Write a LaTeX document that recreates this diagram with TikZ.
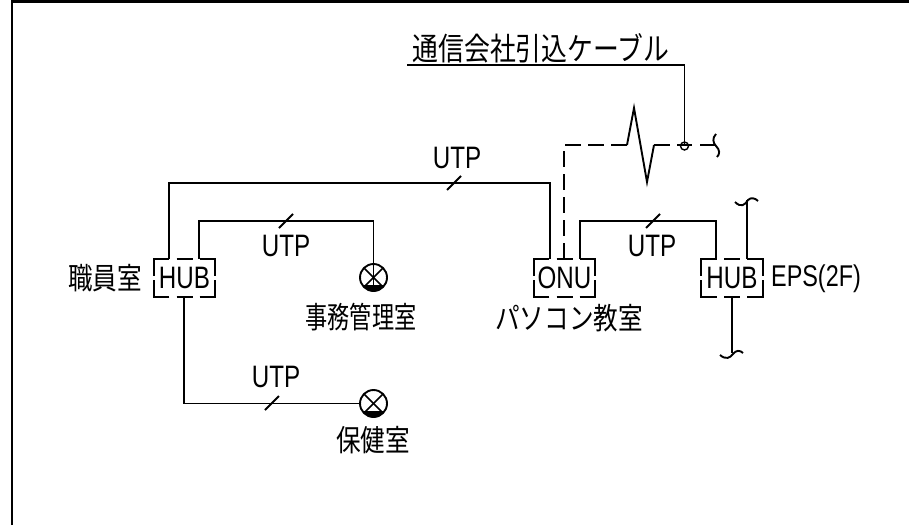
\documentclass[tikz,border=0pt]{standalone}
\usepackage{fontspec}
\setmainfont[FakeStretch=0.78]{Liberation Sans}
\newfontfamily\jpfont[FakeStretch=0.82]{Noto Sans CJK JP}
\tikzset{
  wire/.style={line width=1.9pt},
  cutline/.style={wire,dash pattern=on 16pt off 7pt},
  hubbox/.style={minimum width=61pt,minimum height=38pt,inner sep=0pt,font=\fontsize{31}{31}\selectfont},
  utp/.style={font=\fontsize{31}{31}\selectfont,inner sep=0pt},
  room/.style={font=\jpfont\fontsize{30}{30}\selectfont,inner sep=0pt},
}
\newcommand{\lampsym}[1]{%
  \draw[wire] (#1) circle (13.5pt);
  \draw[line width=1.5pt] ([shift={(45:13pt)}]#1) -- ([shift={(225:13pt)}]#1);
  \draw[line width=1.5pt] ([shift={(135:13pt)}]#1) -- ([shift={(-45:13pt)}]#1);
  \fill ([shift={(-146:13.5pt)}]#1) arc (-146:-34:13.5pt) -- cycle;
}
\begin{document}
\begin{tikzpicture}[x=1pt,y=-1pt]
\useasboundingbox (0,0) rectangle (909,525);
% frame
\draw[line width=2.4pt] (12,525) -- (12,1.5) -- (909,1.5);

\node[hubbox] (hubA) at (184.5,278) {HUB};
\node[hubbox] (onu) at (564.5,278) {ONU};
\node[hubbox] (hubB) at (732,278) {HUB};
\foreach \n in {hubA,onu,hubB} {
  \draw[wire] ([xshift=15.5pt]\n.north west) -- (\n.north west) -- ([yshift=-17pt]\n.north west);
  \draw[wire] ([xshift=-15.5pt]\n.north east) -- (\n.north east) -- ([yshift=-17pt]\n.north east);
  \draw[wire] ([xshift=15.5pt]\n.south west) -- (\n.south west) -- ([yshift=17pt]\n.south west);
  \draw[wire] ([xshift=-15.5pt]\n.south east) -- (\n.south east) -- ([yshift=17pt]\n.south east);
  \draw[wire] ([xshift=-8pt]\n.north) -- ([xshift=8pt]\n.north);
  \draw[wire] ([xshift=-8pt]\n.south) -- ([xshift=8pt]\n.south);
}

\coordinate (lampA) at (373.5,277.5);
\coordinate (lampB) at (373.5,403.5);
\lampsym{lampA}
\lampsym{lampB}

\node[room,font=\jpfont\fontsize{31.5}{31.5}\selectfont] (title) at (541,48) {通信会社引込ケーブル};
\node[room] (staff) at (105,278) {職員室};
\node[room,xscale=.9] (office) at (361,317) {事務管理室};
\node[room] (pcroom) at (569,318) {パソコン教室};
\node[room] (health) at (373,440) {保健室};
\node[utp,font=\fontsize{30}{30}\selectfont] (eps) at (816,279) {EPS(2F)};

\node[utp] (utpA) at (457,158) {UTP};
\node[utp] (utpB) at (286,246) {UTP};
\node[utp] (utpC) at (276,377) {UTP};
\node[utp] (utpD) at (652,246) {UTP};

% wires
\draw[wire] ([xshift=-15.5pt]hubA.north) |- (375,183) -| ([xshift=-14.5pt]onu.north);
\draw[wire] ([xshift=14.5pt]hubA.north) |- (lampA|-0,221) -- ([yshift=-13pt]lampA);
\draw[wire] ([xshift=-.5pt]hubA.south) |- ([xshift=-13pt]lampB);
\draw[wire] ([xshift=15.5pt]onu.north) |- (650,221) -| ([xshift=-16pt]hubB.north);

% slashes
\foreach \a/\b in {447/190,279/228,265/410,646/228} {
  \draw[wire] (\a,\b) -- +(14,-14);
}

% lead in cable
\coordinate (joint) at (684.5,146);
\draw[wire] (407,65) -- (684.5,65) -- (joint);
\draw[line width=1.4pt] (joint) circle (4pt);

% cut line
\coordinate (zigL) at (627,145);
\coordinate (zigR) at (654,145);
\draw[cutline] ([xshift=-.5pt]onu.north) |- (zigL);
\draw[wire,line join=miter] (zigL) -- (634,108) -- (647,182) -- (zigR);
\draw[wire] (zigR) -- (670,145);
\draw[wire] (677,145) -- (692,145);
\draw[wire] (700,145) -- (716,145);

% wave ends
\draw[wire] (716,134) .. controls (712,138) and (713,143) .. (716,146) .. controls (720,150) and (720,154) .. (717,157);
\coordinate (endT) at (747,200);
\coordinate (endB) at (732,353);
\draw[wire] ([xshift=15pt]hubB.north) -- (endT);
\draw[wire] (735,202) .. controls (741,208) and (745,205) .. (748,200) .. controls (751,197) and (755,198) .. (758,201);
\draw[wire] (hubB.south) -- (endB);
\draw[wire] (720,355) .. controls (726,360) and (730,358) .. (733,354) .. controls (736,350) and (740,350) .. (743,353);
\end{tikzpicture}
\end{document}
